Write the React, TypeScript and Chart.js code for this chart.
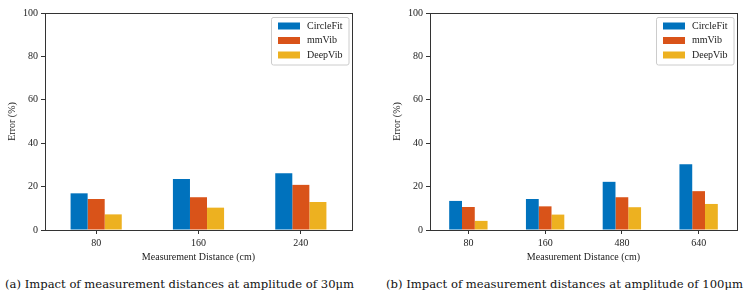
import React, { useEffect, useRef } from "react";
import { Chart, registerables } from "chart.js";

Chart.register(...registerables);

const seriesNames = ["CircleFit", "mmVib", "DeepVib"];
const seriesColors = ["#0072BD", "#D95319", "#EDB120"];

const distancesA = ["80", "160", "240"];
const circleFitA = [16.9, 23.5, 26.2];
const mmVibA = [14.3, 15.1, 20.8];
const deepVibA = [7.2, 10.3, 12.9];

const distancesB = ["80", "160", "480", "640"];
const circleFitB = [13.4, 14.3, 22.2, 30.3];
const mmVibB = [10.6, 10.9, 15.1, 17.9];
const deepVibB = [4.2, 7.1, 10.5, 12.0];

const yTicks = [0, 20, 40, 60, 80, 100];

const captionA = "(a) Impact of measurement distances at amplitude of 30μm";
const captionB = "(b) Impact of measurement distances at amplitude of 100μm";

const FONT = "'Liberation Serif', 'Times New Roman', serif";
const AXIS = "#333333";

const boxPlugin = {
  id: "boxFrame",
  afterDraw(chart: any) {
    const { ctx, chartArea: a } = chart;
    ctx.save();
    ctx.strokeStyle = AXIS;
    ctx.lineWidth = 1;
    ctx.strokeRect(Math.round(a.left) + 0.5, Math.round(a.top) + 0.5, Math.round(a.right - a.left), Math.round(a.bottom - a.top));
    ctx.restore();
  },
};

const legendPlugin = {
  id: "innerLegend",
  afterDraw(chart: any) {
    const { ctx, chartArea: a } = chart;
    const w = 78;
    const h = 48;
    const x = a.right - 3 - w;
    const y = a.top + 4;
    ctx.save();
    ctx.fillStyle = "rgba(255,255,255,0.85)";
    ctx.strokeStyle = "#cccccc";
    ctx.lineWidth = 1;
    ctx.beginPath();
    const r = 2;
    ctx.moveTo(x + r, y + 0.5);
    ctx.arcTo(x + w, y + 0.5, x + w, y + h, r);
    ctx.arcTo(x + w, y + h, x, y + h, r);
    ctx.arcTo(x + 0.5, y + h, x + 0.5, y, r);
    ctx.arcTo(x + 0.5, y + 0.5, x + w, y + 0.5, r);
    ctx.closePath();
    ctx.fill();
    ctx.stroke();
    ctx.font = `10px ${FONT}`;
    ctx.textBaseline = "middle";
    ctx.textAlign = "left";
    chart.data.datasets.forEach((ds: any, i: number) => {
      const cy = y + 9 + i * 14.5;
      ctx.fillStyle = ds.backgroundColor;
      ctx.fillRect(x + 7, cy - 3.5, 22, 7);
      ctx.fillStyle = "#222";
      ctx.fillText(ds.label, x + 36, cy);
    });
    ctx.restore();
  },
};

function BarPanel(props: {
  labels: string[];
  series: number[][];
  yWidth: number;
  padRight: number;
  yTitlePad: number;
  width: number;
  height: number;
}) {
  const ref = useRef<HTMLCanvasElement>(null);
  useEffect(() => {
    if (!ref.current) return;
    const chart = new Chart(ref.current, {
      type: "bar",
      data: {
        labels: props.labels,
        datasets: props.series.map((vals, i) => ({
          label: seriesNames[i],
          data: vals,
          backgroundColor: seriesColors[i],
          borderWidth: 0,
          categoryPercentage: 0.5,
          barPercentage: 1.0,
        })),
      },
      options: {
        animation: false,
        responsive: false,
        maintainAspectRatio: false,
        devicePixelRatio: 1,
        layout: { padding: { left: 0, right: props.padRight, top: 13, bottom: 0 } },
        plugins: { legend: { display: false }, tooltip: { enabled: false } },
        scales: {
          x: {
            type: "category",
            offset: true,
            afterFit: (s: any) => {
              s.height = 40;
            },
            grid: { drawOnChartArea: false, offset: false, tickLength: 4, color: AXIS, tickColor: AXIS },
            border: { display: false },
            ticks: { font: { family: FONT, size: 10 }, color: "#222", padding: 3, maxRotation: 0 },
            title: {
              display: true,
              text: "Measurement Distance (cm)",
              font: { family: FONT, size: 10 },
              color: "#222",
              padding: { top: 0, bottom: 7 },
            },
          },
          y: {
            min: 0,
            max: 100,
            afterFit: (s: any) => {
              s.width = props.yWidth;
            },
            afterBuildTicks: (s: any) => {
              s.ticks = yTicks.map((v) => ({ value: v }));
            },
            grid: { drawOnChartArea: false, tickLength: 4, color: AXIS, tickColor: AXIS },
            border: { display: false },
            ticks: { font: { family: FONT, size: 10 }, color: "#222", padding: 3 },
            title: {
              display: true,
              text: "Error (%)",
              font: { family: FONT, size: 10 },
              color: "#222",
              padding: { top: props.yTitlePad, bottom: 0 },
            },
          },
        },
      },
      plugins: [boxPlugin, legendPlugin],
    } as any);
    return () => chart.destroy();
  }, []);
  return <canvas ref={ref} width={props.width} height={props.height} style={{ width: props.width, height: props.height, display: "block" }} />;
}

export default function App() {
  const captionStyle: React.CSSProperties = {
    position: "absolute",
    top: 276,
    fontFamily: "'DejaVu Serif', serif",
    fontSize: 11.6,
    color: "#111",
    whiteSpace: "nowrap",
    lineHeight: "16px",
  };
  return (
    <div style={{ position: "fixed", left: 0, top: 0, width: 745, height: 297, background: "#fff", overflow: "hidden" }}>
      <div style={{ position: "absolute", left: 0, top: 0 }}>
        <BarPanel labels={distancesA} series={[circleFitA, mmVibA, deepVibA]} yWidth={45} padRight={20} yTitlePad={6} width={372} height={270} />
      </div>
      <div style={{ position: "absolute", left: 375, top: 0 }}>
        <BarPanel labels={distancesB} series={[circleFitB, mmVibB, deepVibB]} yWidth={55} padRight={8} yTitlePad={16} width={370} height={270} />
      </div>
      <div style={{ ...captionStyle, left: 5 }}>{captionA}</div>
      <div style={{ ...captionStyle, left: 386 }}>{captionB}</div>
    </div>
  );
}
